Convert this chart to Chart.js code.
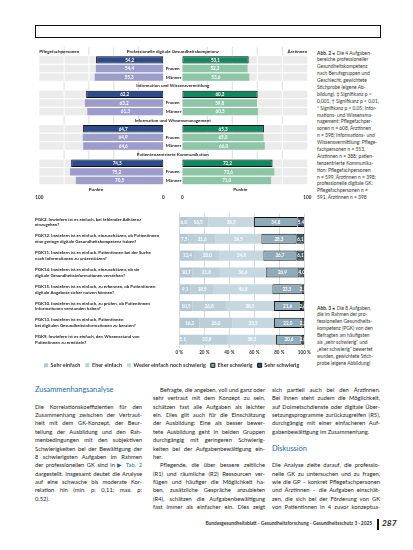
<!DOCTYPE html>
<html lang="de">
<head>
<meta charset="utf-8">
<script src="https://cdn.jsdelivr.net/npm/chart.js@4.4.1/dist/chart.umd.min.js"></script>
<style>
  html, body { margin: 0; padding: 0; background: #fff; }
  body { width: 413px; height: 550px; position: relative; overflow: hidden;
         font-family: Lato, "Open Sans", sans-serif; color: #222; }
  .abs { position: absolute; }
  #kasten { left: 35px; top: 25px; width: 344px; height: 11px; border: 1px solid #111; }
  .cap div { font-size: 4.9px; height: 6.9px; line-height: 6.9px; white-space: nowrap; color: #333; }
  .cap b { font-weight: 700; }
  .col div { font-size: 5.8px; height: 8.4px; line-height: 8.4px; text-align: justify; text-align-last: justify; color: #222; }
  .col div.end { text-align-last: left; }
  .col div.ein { text-indent: 7px; }
  .col div.h { font-size: 7.4px; color: #1f6aa6; text-align-last: left; }
  .blau { color: #1f6aa6; }
  #fuss { left: 150px; top: 520px; width: 222px; text-align: right; font-size: 4.8px; font-weight: 700; color: #333; white-space: nowrap; }
  #strich { left: 377px; top: 519px; width: 1.8px; height: 11px; background: #111; }
  #seite { left: 382px; top: 518px; font-size: 8.4px; font-style: italic; font-weight: 700; color: #222; }
</style>
</head>
<body>
<div id="kasten" class="abs"></div>

<canvas id="links" class="abs" style="left:30px;top:40px" width="140" height="165"></canvas>
<canvas id="rechts" class="abs" style="left:30px;top:40px" width="283" height="165"></canvas>
<canvas id="pgk" class="abs" style="left:35px;top:205px" width="278" height="173"></canvas>

<div class="abs cap" style="left:317px;top:49.5px">
  <div><b>Abb. 2</b> ◂ Die 4 Aufgaben-</div>
  <div>bereiche professioneller</div>
  <div>Gesundheitskompetenz</div>
  <div>nach Berufsgruppen und</div>
  <div>Geschlecht, gewichtete</div>
  <div>Stichprobe (eigene Ab-</div>
  <div>bildung). ‡ Signifikanz p &lt;</div>
  <div>0,001, † Signifikanz p &lt; 0,01,</div>
  <div>* Signifikanz p &lt; 0,05; Infor-</div>
  <div>mations- und Wissensma-</div>
  <div>nagement: Pflegefachper-</div>
  <div>sonen n = 608, Ärztinnen</div>
  <div>n = 398; Informations- und</div>
  <div>Wissensvermittlung: Pflege-</div>
  <div>fachpersonen n = 553,</div>
  <div>Ärztinnen n = 388; patien-</div>
  <div>tenzentrierte Kommunika-</div>
  <div>tion: Pflegefachpersonen</div>
  <div>n = 599, Ärztinnen n = 398;</div>
  <div>professionelle digitale GK:</div>
  <div>Pflegefachpersonen n =</div>
  <div>591, Ärztinnen n = 398</div>
</div>

<div class="abs cap" style="left:317px;top:304.5px">
  <div><b>Abb. 3</b> ◂ Die 8 Aufgaben,</div>
  <div>die im Rahmen der pro-</div>
  <div>fessionellen Gesundheits-</div>
  <div>kompetenz (PGK) von den</div>
  <div>Befragten am häufigsten</div>
  <div>als „sehr schwierig“ und</div>
  <div>„eher schwierig“ bewertet</div>
  <div>wurden, gewichtete Stich-</div>
  <div>probe (eigene Abbildung)</div>
</div>

<div class="abs col" style="left:35px;top:385.8px;width:107px">
  <div class="h">Zusammenhangsanalyse</div>
  <div class="end">&nbsp;</div>
  <div>Die Korrelationskoeffizienten für den</div>
  <div>Zusammenhang zwischen der Vertraut-</div>
  <div>heit mit dem GK-Konzept, der Beur-</div>
  <div>teilung der Ausbildung und den Rah-</div>
  <div>menbedingungen mit den subjektiven</div>
  <div>Schwierigkeiten bei der Bewältigung der</div>
  <div>8 schwierigsten Aufgaben im Rahmen</div>
  <div>der professionellen GK sind in <span class="blau">▶ Tab. 2</span></div>
  <div>dargestellt. Insgesamt deutet die Analyse</div>
  <div>auf eine schwache bis moderate Kor-</div>
  <div>relation hin (min. ρ: 0,11; max. ρ:</div>
  <div class="end">0,52).</div>
</div>

<div class="abs col" style="left:153px;top:385.8px;width:112px">
  <div class="ein">Befragte, die angeben, voll und ganz oder</div>
  <div>sehr vertraut mit dem Konzept zu sein,</div>
  <div>schätzen fast alle Aufgaben als leichter</div>
  <div>ein. Dies gilt auch für die Einschätzung</div>
  <div>der Ausbildung: Eine als besser bewer-</div>
  <div>tete Ausbildung geht in beiden Gruppen</div>
  <div>durchgängig mit geringeren Schwierig-</div>
  <div>keiten bei der Aufgabenbewältigung ein-</div>
  <div class="end">her.</div>
  <div class="ein">Pflegende, die über bessere zeitliche</div>
  <div>(R1) und räumliche (R2) Ressourcen ver-</div>
  <div>fügen und häufiger die Möglichkeit ha-</div>
  <div>ben, zusätzliche Gespräche anzubieten</div>
  <div>(R4), schätzen die Aufgabenbewältigung</div>
  <div>fast immer als einfacher ein. Dies zeigt</div>
</div>

<div class="abs col" style="left:272px;top:385.8px;width:108px">
  <div>sich partiell auch bei den Ärztinnen.</div>
  <div>Bei ihnen steht zudem die Möglichkeit,</div>
  <div>auf Dolmetschdienste oder digitale Über-</div>
  <div>setzungsprogramme zurückzugreifen (R5),</div>
  <div>durchgängig mit einer einfacheren Auf-</div>
  <div class="end">gabenbewältigung im Zusammenhang.</div>
  <div class="end">&nbsp;</div>
  <div class="h">Diskussion</div>
  <div class="end">&nbsp;</div>
  <div>Die Analyse zielte darauf, die professio-</div>
  <div>nelle GK zu untersuchen und zu fragen,</div>
  <div>wie die GP – konkret Pflegefachpersonen</div>
  <div>und Ärztinnen – die Aufgaben einschät-</div>
  <div>zen, die sich bei der Förderung von GK</div>
  <div>von Patientinnen in 4 zuvor konzeptua-</div>
</div>

<div id="fuss" class="abs">Bundesgesundheitsblatt - Gesundheitsforschung - Gesundheitsschutz 3 · 2025</div>
<div id="strich" class="abs"></div>
<div id="seite" class="abs">287</div>

<script>
// Abb. 2: Aufgabenbereiche, Punkte 0-100
var bereiche = ['Professionelle digitale Gesundheitskompetenz', 'Information und Wissensvermittlung',
                'Information und Wissensmanagement', 'Patientenzentrierte Kommunikation'];
var pflegeGesamt  = [54.2, 62.2, 64.7, 74.3];
var pflegeFrauen  = [54.4, 63.2, 64.9, 75.2];
var pflegeMaenner = [55.3, 61.3, 64.6, 70.5];
var aerzteGesamt  = [53.1, 60.3, 65.3, 72.2];
var aerzteFrauen  = [52.2, 59.8, 65.0, 73.6];
var aerzteMaenner = [53.6, 60.5, 66.0, 71.0];
var punkteTicks = [0, 100];

// Abb. 3: die 8 schwierigsten Aufgaben, Anteile in %
var aufgaben = [
  ['PGK2. Inwiefern ist es einfach, bei fehlender Adhärenz', 'einzugehen?'],
  ['PGK12. Inwiefern ist es einfach, einzuschätzen, ob Patientinnen', 'eine geringe digitale Gesundheitskompetenz haben?'],
  ['PGK11. Inwiefern ist es einfach, Patientinnen bei der Suche', 'nach Informationen zu unterstützen?'],
  ['PGK14. Inwiefern ist es einfach, einzuschätzen, ob sie', 'digitale Gesundheitsinformationen verstehen?'],
  ['PGK15. Inwiefern ist es einfach, zu erkennen, ob Patientinnen', 'digitale Angebote sicher nutzen können?'],
  ['PGK10. Inwiefern ist es einfach, zu prüfen, ob Patientinnen', 'Informationen verstanden haben?'],
  ['PGK13. Inwiefern ist es einfach, Patientinnen', 'bei digitalen Gesundheitsinformationen zu beraten?'],
  ['PGK9. Inwiefern ist es einfach, den Wissensstand von', 'Patientinnen zu ermitteln?']
];
var antworten = ['Sehr einfach', 'Eher einfach', 'Weder einfach noch schwierig', 'Eher schwierig', 'Sehr schwierig'];
var sehrEinfach     = [6.8, 7.5, 12.4, 10.7, 9.1, 10.5, 16.3, 5.1];
var eherEinfach     = [16.5, 21.6, 20.0, 21.8, 18.5, 26.8, 26.0, 33.8];
var wederNoch       = [36.5, 36.5, 34.8, 36.6, 46.8, 38.5, 33.5, 38.5];
var eherSchwierig   = [34.8, 28.3, 26.7, 26.9, 23.5, 21.6, 22.0, 20.6];
var sehrSchwierig   = [5.4, 6.1, 6.1, 4.0, 2.1, 2.6, 2.2, 2.0];
var prozentTicks = [0, 20, 40, 60, 80, 100];

Chart.defaults.font.family = 'Lato, "Open Sans", sans-serif';
Chart.defaults.font.weight = 'bold';
Chart.defaults.color = '#333';

// 4 Zeilen pro Bereich: Überschrift, Gesamt, Frauen, Männer
var zeilen = [];
bereiche.forEach(function(b) { zeilen.push(b, 'Gesamt', 'Frauen', 'Männer'); });
function spalte(werte, pos) {
  return zeilen.map(function(z, i) { return i % 4 === pos ? werte[Math.floor(i / 4)] : null; });
}
function komma(v) { return v.toFixed(1).replace('.', ','); }

// graue Bänder + Gitterlinien hinter den Balken
var baender = {
  id: 'baender',
  beforeDatasetsDraw: function(chart) {
    var ctx = chart.ctx, a = chart.chartArea, x = chart.scales.x, y = chart.scales.y;
    var h = y.getPixelForValue(1) - y.getPixelForValue(0);
    ctx.save();
    zeilen.forEach(function(z, i) {
      if (i % 4 === 0) return;
      var yc = y.getPixelForValue(i);
      ctx.fillStyle = '#ebebeb';
      ctx.fillRect(a.left, yc - h / 2 + 0.6, a.right - a.left, h - 1.2);
    });
    [20, 40, 60, 80].forEach(function(v) {
      var px = x.getPixelForValue(v);
      zeilen.forEach(function(z, i) {
        var yc = y.getPixelForValue(i);
        ctx.fillStyle = i % 4 === 0 ? '#dddddd' : '#ffffff';
        ctx.fillRect(px - 0.5, yc - h / 2, 1, h);
      });
    });
    ctx.restore();
  }
};

// Zahlen in die Balken schreiben
var werteText = {
  id: 'werteText',
  afterDatasetsDraw: function(chart) {
    var ctx = chart.ctx;
    ctx.save();
    ctx.font = 'bold 4.6px Lato, sans-serif';
    ctx.fillStyle = '#fff';
    ctx.textAlign = 'center';
    ctx.textBaseline = 'middle';
    chart.data.datasets.forEach(function(ds, di) {
      chart.getDatasetMeta(di).data.forEach(function(el, i) {
        var v = ds.data[i];
        if (v === null || v === undefined) return;
        ctx.fillText(komma(v), (el.x + el.base) / 2, el.y + 0.3);
      });
    });
    ctx.restore();
  }
};

// Beschriftungen zwischen und über den beiden Hälften
var mitte = {
  id: 'mitte',
  afterDraw: function(chart) {
    var ctx = chart.ctx, a = chart.chartArea, y = chart.scales.y;
    ctx.save();
    ctx.font = 'bold 4.5px Lato, sans-serif';
    ctx.fillStyle = '#222';
    ctx.textBaseline = 'middle';
    zeilen.forEach(function(z, i) {
      var yc = y.getPixelForValue(i);
      if (i % 4 === 0) {
        ctx.textAlign = 'center';
        ctx.fillText(z, a.left - 9.5, yc);
      } else if (i % 4 > 1) {
        ctx.textAlign = 'left';
        ctx.fillText(z, a.left - 16.5, yc);
      }
    });
    var y0 = y.getPixelForValue(0);
    ctx.textAlign = 'left';
    ctx.fillText('Pflegefachpersonen', 9.3, y0);
    ctx.textAlign = 'right';
    ctx.fillText('Ärztinnen', a.right, y0);
    var yt = a.bottom + 4.3;
    ctx.textAlign = 'center';
    ctx.fillText('Punkte', 66, yt);
    ctx.fillText('Punkte', a.left + 58, yt);
    ctx.restore();
  }
};

function haelfte(id, gesamt, frauen, maenner, dunkel, hell, links) {
  new Chart(document.getElementById(id), {
    type: 'bar',
    data: {
      labels: zeilen,
      datasets: [
        { label: 'Gesamt', data: spalte(gesamt, 1), backgroundColor: dunkel, borderColor: '#111', borderWidth: 1, borderSkipped: false },
        { label: 'Frauen', data: spalte(frauen, 2), backgroundColor: hell, borderWidth: 0 },
        { label: 'Männer', data: spalte(maenner, 3), backgroundColor: hell, borderWidth: 0 }
      ]
    },
    options: {
      indexAxis: 'y',
      responsive: false,
      animation: false,
      datasets: { bar: { grouped: false, barPercentage: 0.86, categoryPercentage: 1 } },
      layout: { padding: links ? { left: 9.3, right: 6.7, top: 7, bottom: 3.7 }
                               : { left: 152.3, right: 5.7, top: 7, bottom: 3.7 } },
      plugins: { legend: { display: false }, tooltip: { enabled: false } },
      scales: {
        x: {
          min: 0, max: 100, reverse: links,
          grid: { display: false }, border: { display: false },
          afterBuildTicks: function(s) { s.ticks = punkteTicks.map(function(v) { return { value: v }; }); },
          ticks: { padding: 1.5, autoSkip: false, maxRotation: 0, font: { size: 4.6, weight: 'bold' }, color: '#222' }
        },
        y: { display: false }
      }
    },
    plugins: links ? [baender, werteText] : [baender, werteText, mitte]
  });
}

haelfte('links', pflegeGesamt, pflegeFrauen, pflegeMaenner, '#2b4b8e', '#9c9dcb', true);
haelfte('rechts', aerzteGesamt, aerzteFrauen, aerzteMaenner, '#0f8a60', '#8cc6a6', false);

// Abb. 3: gestapelte Balken
var farben = ['#b3c8d2', '#bccfd8', '#c6d7df', '#8fabb9', '#35596b'];
var reihen = [sehrEinfach, eherEinfach, wederNoch, eherSchwierig, sehrSchwierig];

new Chart(document.getElementById('pgk'), {
  type: 'bar',
  data: {
    labels: aufgaben,
    datasets: reihen.map(function(r, k) {
      return {
        label: antworten[k], data: r, backgroundColor: farben[k],
        borderColor: '#111', borderWidth: k > 2 ? 1 : 0, borderSkipped: false
      };
    })
  },
  options: {
    indexAxis: 'y',
    responsive: false,
    animation: false,
    datasets: { bar: { barPercentage: 0.6, categoryPercentage: 1 } },
    layout: { padding: { left: 0, right: 8.7, top: 8.6, bottom: 0 } },
    plugins: {
      tooltip: { enabled: false },
      legend: {
        position: 'bottom', align: 'end',
        labels: { boxWidth: 4, boxHeight: 4, padding: 5, font: { size: 5.4, weight: 'bold' }, color: '#333' }
      }
    },
    scales: {
      x: {
        stacked: true, min: 0, max: 100,
        grid: { color: '#d9d9d9', lineWidth: 1, drawTicks: false }, border: { display: false },
        afterBuildTicks: function(s) { s.ticks = prozentTicks.map(function(v) { return { value: v }; }); },
        ticks: { padding: 2, autoSkip: false, maxRotation: 0, font: { size: 4.6, weight: 'bold' }, color: '#333',
                 callback: function(v) { return v + ' %'; } }
      },
      y: {
        stacked: true,
        grid: { display: false }, border: { display: false },
        afterFit: function(s) { s.width = 144.3; },
        ticks: { crossAlign: 'far', padding: 0, autoSkip: false, font: { size: 4.4, weight: 'bold', lineHeight: 1.3 }, color: '#222' }
      }
    }
  },
  plugins: [werteText]
});
</script>
</body>
</html>
